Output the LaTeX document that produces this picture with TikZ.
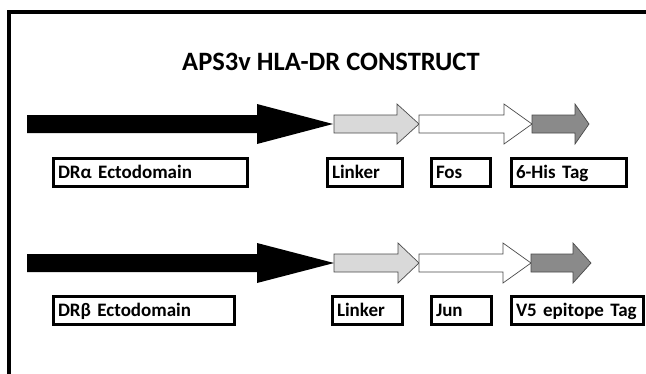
\documentclass[tikz,border=0pt]{standalone}
\usepackage{fontspec}
\setmainfont{Carlito}
\usetikzlibrary{positioning}
\definecolor{linkgray}{HTML}{D9D9D9}
\definecolor{taggray}{HTML}{8A8A8A}
\definecolor{edgegray}{HTML}{4A4A4A}
% one piece of the construct: start, head base, tip, row, style
\def\segment#1#2#3#4#5{
\path [#5] (#1,#4-9) -- (#2,#4-9) -- (#2,#4-20) -- (#3,#4)
      -- (#2,#4+20) -- (#2,#4+9) -- (#1,#4+9) -- cycle;
}
\tikzset{
  ecto/.style={fill=black},
  linker/.style={fill=linkgray,draw=edgegray,line width=0.7pt},
  zipper/.style={fill=white,draw=edgegray,line width=0.7pt},
  tagseg/.style={fill=taggray,draw=edgegray,line width=0.7pt},
  labelbox/.style={draw,line width=3pt,anchor=north west,minimum height=28pt,
    inner xsep=5pt,inner ysep=0pt,text height=12.2pt,text depth=0pt,align=left,
    font=\bfseries\fontsize{19}{19}\selectfont},
  frame/.style={line width=4pt,line cap=rect}
}
\begin{document}
\begin{tikzpicture}[x=1pt,y=-1pt]
    \useasboundingbox (0,0) rectangle (646,373);
    \draw [frame] (8.5,373) -- (8.5,12) -- (646,12);
    \node [anchor=base,font=\bfseries\fontsize{26.5}{26.5}\selectfont] (title) at (331,70)
          {APS3v HLA-DR CONSTRUCT};
    % alpha chain
    \segment{27}{257}{333}{124}{ecto}
    \segment{334}{397}{419}{124}{linker}
    \segment{419}{504}{532}{124}{zipper}
    \segment{532}{575}{589}{124}{tagseg}
    \node [labelbox,text width=184pt] (dra) at (51.5,156.5) {DRα Ectodomain};
    \node [labelbox,text width=65pt] (linka) at (325.5,156.5) {Linker};
    \node [labelbox,text width=49pt] (fos) at (429.5,156.5) {Fos};
    \node [labelbox,text width=105pt] (his) at (509.5,156.5) {6-His Tag};
    % beta chain
    \segment{27}{257}{334}{263}{ecto}
    \segment{334}{398}{419}{263}{linker}
    \segment{419}{503}{531}{263}{zipper}
    \segment{531}{573}{591}{263}{tagseg}
    \node [labelbox,text width=171pt] (drb) at (51.5,294.5) {DRβ Ectodomain};
    \node [labelbox,text width=60pt] (linkb) at (330.5,294.5) {Linker};
    \node [labelbox,text width=50pt] (jun) at (429.5,294.5) {Jun};
    \node [labelbox,text width=122pt] (vfive) at (509.5,294.5) {V5 epitope Tag};
\end{tikzpicture}
\end{document}
